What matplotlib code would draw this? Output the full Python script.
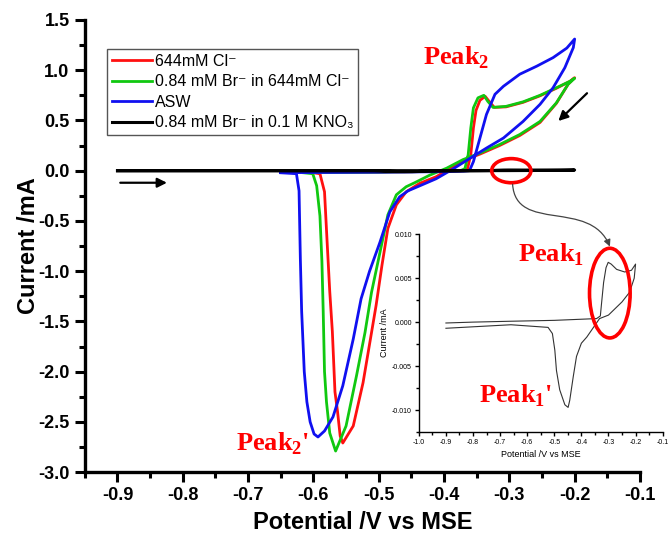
import matplotlib
matplotlib.use("Agg")
import matplotlib.pyplot as plt
from matplotlib.patches import Ellipse, FancyArrowPatch
from matplotlib.path import Path
from matplotlib.ticker import MultipleLocator, FormatStrFormatter

plt.rcParams["font.family"] = ["Liberation Sans", "DejaVu Sans"]
plt.rcParams["mathtext.fontset"] = "custom"
plt.rcParams["mathtext.rm"] = "Liberation Sans"
plt.rcParams["mathtext.bf"] = "Liberation Serif:bold"
plt.rcParams["axes.unicode_minus"] = False

# 644mM Cl-
red_x = [-0.600, -0.500, -0.400, -0.372, -0.364, -0.359, -0.355, -0.351, -0.345, -0.337,
         -0.331, -0.323, -0.305, -0.279, -0.253, -0.228, -0.207, -0.200,
         -0.210, -0.228, -0.253, -0.284, -0.315, -0.345, -0.371, -0.391, -0.412, -0.437,
         -0.458, -0.473, -0.486, -0.495, -0.504, -0.511, -0.524, -0.539, -0.555, -0.559,
         -0.563, -0.567, -0.571, -0.575, -0.579, -0.583, -0.590, -0.600]
red_y = [-0.02, -0.015, -0.005, 0.0, 0.02, 0.16, 0.425, 0.60, 0.70, 0.74,
         0.69, 0.63, 0.635, 0.68, 0.745, 0.82, 0.89, 0.925,
         0.86, 0.67, 0.48, 0.35, 0.25, 0.165, 0.10, 0.02, -0.06, -0.125,
         -0.21, -0.34, -0.575, -0.94, -1.34, -1.61, -2.11, -2.54, -2.71, -2.64,
         -2.40, -2.20, -1.60, -1.20, -0.71, -0.21, -0.03, -0.02]

# 0.84 mM Br- in 644mM Cl-
green_x = [-0.615, -0.500, -0.400, -0.375, -0.368, -0.363, -0.359, -0.355, -0.348, -0.339,
           -0.333, -0.325, -0.305, -0.279, -0.253, -0.228, -0.207, -0.200,
           -0.210, -0.228, -0.253, -0.284, -0.315, -0.345, -0.371, -0.396, -0.422, -0.445,
           -0.458, -0.473, -0.486, -0.498, -0.511, -0.521, -0.534, -0.550, -0.566,
           -0.575, -0.580, -0.583, -0.585, -0.587, -0.590, -0.595, -0.601, -0.615]
green_y = [-0.02, -0.015, -0.005, 0.0, 0.02, 0.16, 0.425, 0.625, 0.725, 0.75,
           0.69, 0.63, 0.64, 0.685, 0.75, 0.825, 0.89, 0.92,
           0.86, 0.675, 0.49, 0.36, 0.26, 0.175, 0.11, 0.025, -0.045, -0.12,
           -0.16, -0.24, -0.44, -0.81, -1.21, -1.61, -2.04, -2.54, -2.79,
           -2.61, -2.30, -2.00, -1.40, -0.90, -0.45, -0.15, -0.03, -0.02]

# ASW
blue_x = [-0.650, -0.500, -0.400, -0.370, -0.361, -0.355, -0.345, -0.335, -0.322, -0.309,
          -0.284, -0.258, -0.233, -0.212, -0.200,
          -0.202, -0.215, -0.233, -0.253, -0.279, -0.309, -0.335, -0.361, -0.388, -0.412,
          -0.437, -0.455, -0.468, -0.483, -0.498, -0.514, -0.527, -0.539, -0.555, -0.570,
          -0.583, -0.593, -0.599, -0.605, -0.610, -0.614, -0.618, -0.620, -0.622, -0.626, -0.650]
blue_y = [-0.02, -0.015, -0.01, -0.005, 0.0, 0.09, 0.325, 0.56, 0.76, 0.84,
          0.96, 1.04, 1.125, 1.22, 1.31,
          1.225, 1.025, 0.825, 0.66, 0.49, 0.325, 0.225, 0.12, 0.01, -0.08,
          -0.15, -0.20, -0.26, -0.41, -0.71, -1.00, -1.275, -1.675, -2.14, -2.45,
          -2.59, -2.65, -2.62, -2.50, -2.30, -2.00, -1.40, -0.875, -0.20, -0.03, -0.02]

# 0.84 mM Br- in 0.1 M KNO3
kno3_x = [-0.900, -0.800, -0.660, -0.500, -0.344, -0.330, -0.326, -0.318, -0.309, -0.301,
          -0.290, -0.270, -0.240, -0.215, -0.200,
          -0.205, -0.222, -0.250, -0.300, -0.333, -0.380, -0.400, -0.418, -0.430, -0.443,
          -0.449, -0.461, -0.480, -0.492, -0.498, -0.507, -0.523, -0.660, -0.900]
kno3_y = [-0.0001, 0.0, 0.0001, 0.0002, 0.0004, 0.0007, 0.0020, 0.0045, 0.0062, 0.0068,
          0.0066, 0.0060, 0.0057, 0.0059, 0.0066,
          0.0050, 0.0034, 0.0023, 0.0008, 0.0004, -0.0017, -0.0024, -0.0039, -0.0062, -0.0089,
          -0.0097, -0.0094, -0.0077, -0.0055, -0.0032, -0.0013, -0.0006, -0.0003, -0.0007]

labels = ["644mM Cl\u207b", "0.84 mM Br\u207b in 644mM Cl\u207b", "ASW",
          "0.84 mM Br\u207b in 0.1 M KNO\u2083"]
colors = ["#ff1010", "#10c810", "#1010f0", "black"]

fig = plt.figure(figsize=(6.68, 5.39), dpi=100)
ax = fig.add_axes([0.127, 0.124, 0.831, 0.839])

ax.plot(red_x, red_y, color=colors[0], lw=2, label=labels[0])
ax.plot(green_x, green_y, color=colors[1], lw=2, label=labels[1])
ax.plot(blue_x, blue_y, color=colors[2], lw=2, label=labels[2])
ax.plot(kno3_x, kno3_y, color=colors[3], lw=2.2, label=labels[3])

ax.set_xlim(-0.95, -0.1)
ax.set_ylim(-3.0, 1.5)
ax.xaxis.set_major_locator(MultipleLocator(0.1))
ax.xaxis.set_minor_locator(MultipleLocator(0.05))
ax.yaxis.set_major_locator(MultipleLocator(0.5))
ax.yaxis.set_minor_locator(MultipleLocator(0.25))
ax.xaxis.set_major_formatter(FormatStrFormatter("%.1f"))
ax.yaxis.set_major_formatter(FormatStrFormatter("%.1f"))
for s in ["top", "right"]:
    ax.spines[s].set_visible(False)
for s in ["left", "bottom"]:
    ax.spines[s].set_linewidth(2.4)
ax.tick_params(which="major", length=7, width=2.2, labelsize=13, pad=4)
ax.tick_params(which="minor", length=4, width=2.2)
for lab in ax.get_xticklabels() + ax.get_yticklabels():
    lab.set_fontweight("bold")
ax.set_xlabel("Potential /V vs MSE", fontsize=17, fontweight="bold", labelpad=5)
ax.set_ylabel("Current /mA", fontsize=17, fontweight="bold", labelpad=-1)

leg = ax.legend(loc="upper left", bbox_to_anchor=(0.04, 0.936), borderaxespad=0,
                fontsize=11.5, handlelength=2.5, handletextpad=0.2, labelspacing=0.35,
                fancybox=False, framealpha=1, borderpad=0.3)
leg.get_frame().set_edgecolor("#555555")
leg.get_frame().set_linewidth(1.0)

# scan direction arrows
ax.annotate("", xy=(-0.82, -0.12), xytext=(-0.90, -0.12),
            arrowprops=dict(arrowstyle="-|>", color="black", lw=1.6, mutation_scale=14))
ax.annotate("", xy=(-0.228, 0.475), xytext=(-0.178, 0.79),
            arrowprops=dict(arrowstyle="-|>", color="black", lw=1.6, mutation_scale=14))

ax.text(-0.382, 1.125, "Peak$_{\\mathbf{2}}$", color="red", fontsize=19,
        fontfamily="Liberation Serif", fontweight="bold", ha="center", va="center", zorder=6)
ax.text(-0.663, -2.72, "Peak$_{\\mathbf{2}}$'", color="red", fontsize=19,
        fontfamily="Liberation Serif", fontweight="bold", ha="center", va="center", zorder=6)

ax.add_patch(Ellipse((-0.297, 0.0), 0.06, 0.24, fill=False, edgecolor="red", lw=2.6, zorder=5))

# inset
axins = fig.add_axes([0.627, 0.1985, 0.365, 0.367])
axins.set_facecolor("white")
axins.plot(kno3_x, kno3_y, color="#333333", lw=0.8)
axins.set_xlim(-1.0, -0.1)
axins.set_ylim(-0.0125, 0.010)
axins.xaxis.set_major_locator(MultipleLocator(0.1))
axins.xaxis.set_minor_locator(MultipleLocator(0.05))
axins.yaxis.set_major_locator(MultipleLocator(0.005))
axins.yaxis.set_minor_locator(MultipleLocator(0.0025))
axins.xaxis.set_major_formatter(FormatStrFormatter("%.1f"))
axins.yaxis.set_major_formatter(FormatStrFormatter("%.3f"))
for s in ["top", "right"]:
    axins.spines[s].set_visible(False)
for s in ["left", "bottom"]:
    axins.spines[s].set_linewidth(1.0)
axins.tick_params(which="major", length=3, width=1, labelsize=5, pad=2)
axins.tick_params(which="minor", length=2, width=1)
axins.set_xlabel("Potential /V vs MSE", fontsize=6.5, labelpad=3)
axins.set_ylabel("Current /mA", fontsize=6.5, labelpad=2)
axins.text(-0.513, 0.0077, "Peak$_{\\mathbf{1}}$", color="red", fontsize=19,
           fontfamily="Liberation Serif", fontweight="bold", ha="center", va="center")
axins.text(-0.642, -0.0084, "Peak$_{\\mathbf{1}}$'", color="red", fontsize=19,
           fontfamily="Liberation Serif", fontweight="bold", ha="center", va="center")
axins.add_patch(Ellipse((-0.295, 0.0033), 0.15, 0.0102, fill=False, edgecolor="red",
                        lw=2.6, zorder=5))

# connector from the main-plot circle to the inset
verts = [(-0.295, -0.135), (-0.290, -0.625), (-0.177, -0.275), (-0.146, -0.755)]
conn = FancyArrowPatch(path=Path(verts, [Path.MOVETO, Path.CURVE4, Path.CURVE4, Path.CURVE4]),
                       arrowstyle="-|>", mutation_scale=10, color="#444444", lw=0.9,
                       transform=ax.transData)
fig.add_artist(conn)

fig.savefig("out.png", dpi=100)
